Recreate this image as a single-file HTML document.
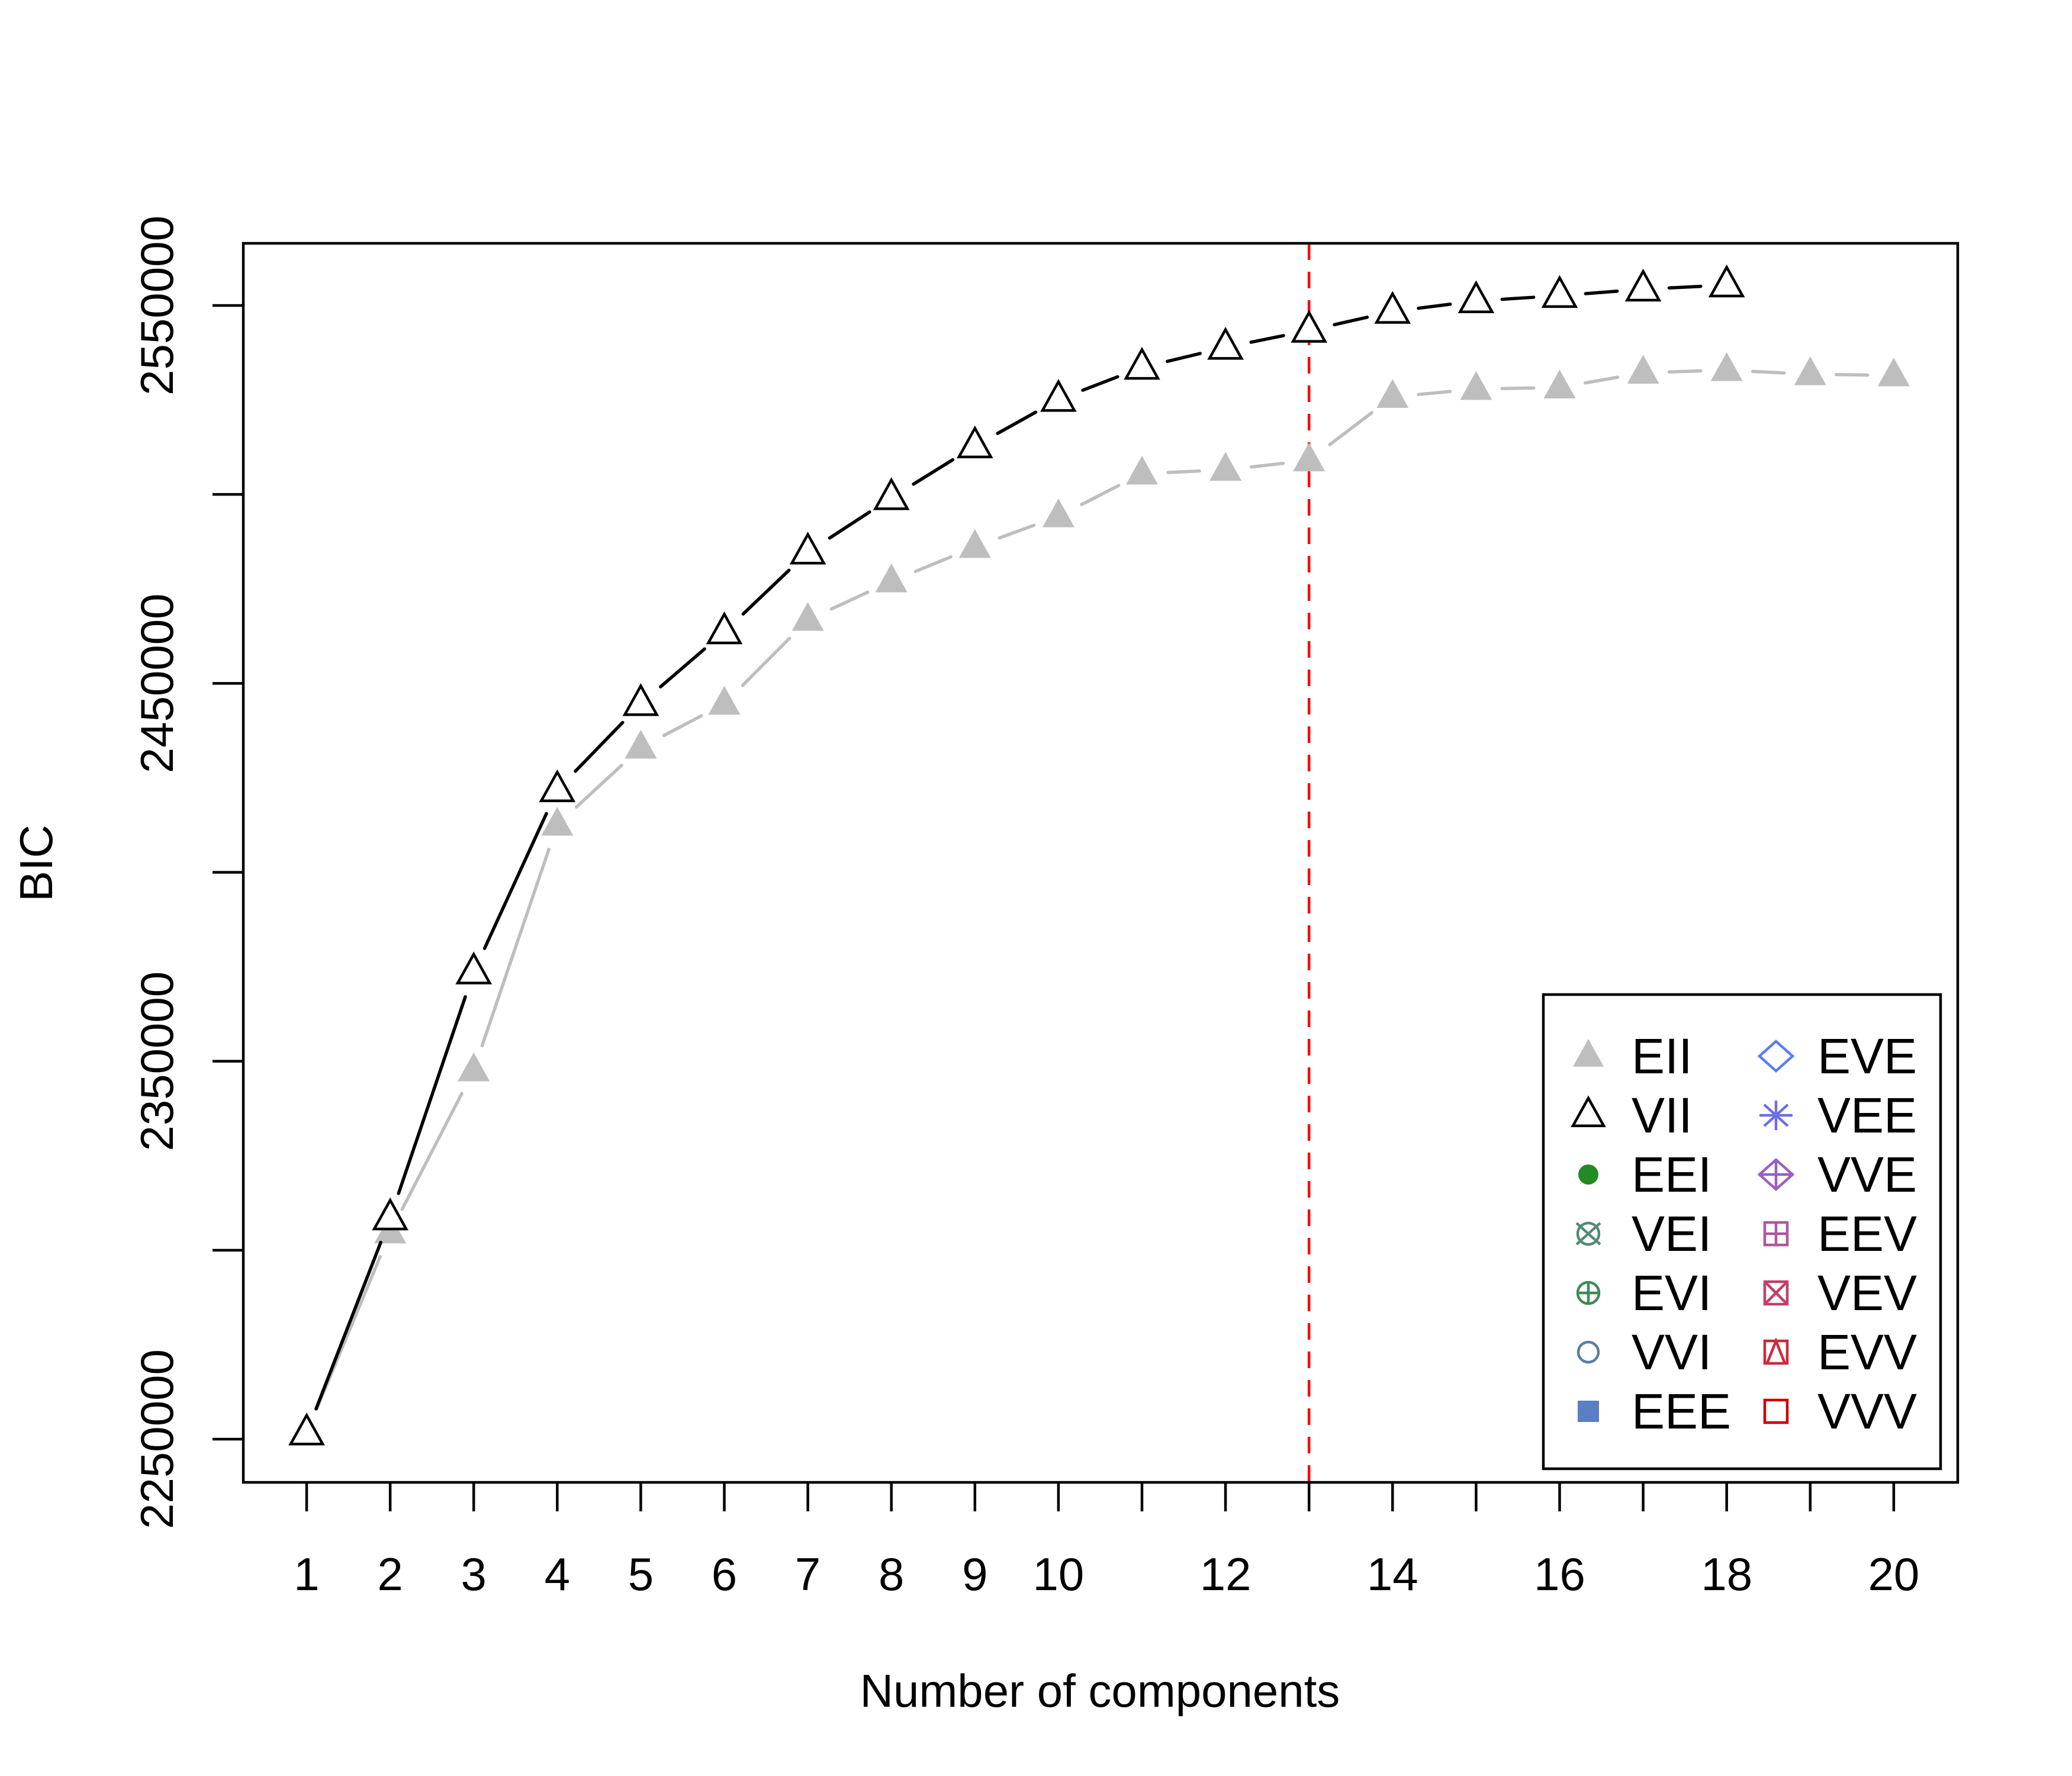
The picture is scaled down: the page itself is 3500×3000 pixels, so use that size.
<!DOCTYPE html>
<html><head><meta charset="utf-8"><style>html,body{margin:0;padding:0;background:#fff}svg{display:block}text{font-family:"Liberation Sans",Arial,sans-serif}</style></head>
<body>
<svg id="chart" width="3500" height="3000" viewBox="0 0 3500 3000" xmlns="http://www.w3.org/2000/svg">
<rect x="0" y="0" width="3500" height="3000" fill="#fff"/>
<g id="marks"></g>
<rect x="411" y="411" width="2896" height="2093" fill="none" stroke="#000" stroke-width="4.5"/>
<g id="axes"></g>
<text x="1858" y="2883" font-size="78" text-anchor="middle">Number of components</text>
<text transform="translate(88,1458) rotate(-90)" font-size="78" text-anchor="middle">BIC</text>
<g>
<rect x="2607" y="1680" width="671" height="801" fill="#fff" stroke="#000" stroke-width="4.5"/>
<g id="legend-items"></g>
</g>
</svg>
<script>
const components = [1,2,3,4,5,6,7,8,9,10,11,12,13,14,15,16,17,18,19,20];
const eiiValues = [2251600,2304700,2347600,2412600,2433000,2444600,2466800,2477000,2486100,2494200,2505500,2506500,2509000,2525800,2527900,2528300,2532200,2532900,2531800,2531500];
const viiValues = [2251600,2308500,2373600,2421800,2444600,2463600,2484700,2499100,2512800,2525100,2533600,2538900,2543400,2548400,2551200,2552600,2554300,2555400];
const xTickLabels = ["1","2","3","4","5","6","7","8","9","10","","12","","14","","16","","18","","20"];
const yTicks = [2250000,2300000,2350000,2400000,2450000,2500000,2550000];
const yTickLabels = ["2250000","","2350000","","2450000","","2550000"];
const bestK = 13;

const NS = "http://www.w3.org/2000/svg";
function X(v){ return 518 + (v-1)*141.1; }
function Y(v){ return 2431 - (v-2250000)/300000*1915; }
function mk(tag, attrs, parent){ const e=document.createElementNS(NS,tag); for(const k in attrs) e.setAttribute(k,attrs[k]); parent.appendChild(e); return e; }
const marks=document.getElementById('marks'), axes=document.getElementById('axes'), leg=document.getElementById('legend-items');

components.forEach((c,i)=>{
  const t=mk('line',{x1:X(c),x2:X(c),y1:2504,y2:2553,stroke:'#000','stroke-width':4.5},axes);
  
  
  if(xTickLabels[i]){
    const l=mk('text',{x:X(c),y:2686,'font-size':78,'text-anchor':'middle'},axes);
    l.textContent=xTickLabels[i];
    
    
  }
});
yTicks.forEach((v,i)=>{
  const t=mk('line',{x1:359,x2:411,y1:Y(v),y2:Y(v),stroke:'#000','stroke-width':4.5},axes);
  
  
  if(yTickLabels[i]){
    const l=mk('text',{transform:`translate(292,${Y(v)}) rotate(-90)`,'font-size':78,'text-anchor':'middle'},axes);
    l.textContent=yTickLabels[i];
    
    
  }
});

const rl=mk('line',{x1:X(bestK),x2:X(bestK),y1:411,y2:2504,stroke:'#ff0000','stroke-width':4.5,'stroke-dasharray':'28 20'},marks);



function tri(cx,cy,s,fill,stroke,parent){
  const h=s*0.9;
  return mk('polygon',{points:`${cx},${cy-h*0.62} ${cx-s/2},${cy+h*0.38} ${cx+s/2},${cy+h*0.38}`,fill:fill,stroke:stroke,'stroke-width':4.5},parent);
}
function series(vals,color,filled,name){
  const gap=44;
  for(let i=0;i<vals.length-1;i++){
    const x1=X(components[i]),y1=Y(vals[i]),x2=X(components[i+1]),y2=Y(vals[i+1]);
    const d=Math.hypot(x2-x1,y2-y1); if(d<=2*gap) continue;
    const ux=(x2-x1)/d, uy=(y2-y1)/d;
    const s=mk('line',{x1:x1+ux*gap,y1:y1+uy*gap,x2:x2-ux*gap,y2:y2-uy*gap,stroke:color,'stroke-width':5.5,'stroke-linecap':'round'},marks);
    
    
  }
  vals.forEach((v,i)=>{
    const p=tri(X(components[i]),Y(v),54,filled?color:'#fff',filled?'none':color,marks);
    
    
  });
}
series(eiiValues,'#bebebe',true,'eii');
series(viiValues,'#000',false,'vii');

const col1=["EII","VII","EEI","VEI","EVI","VVI","EEE"], col2=["EVE","VEE","VVE","EEV","VEV","EVV","VVV"];
function sym(i,cx,cy,col){
  const g=mk('g',{},leg);
  
  
  const sw=4.5;
  if(col===0){
    if(i===0) tri(cx,cy,52,'#bebebe','none',g);
    if(i===1) tri(cx,cy,52,'#fff','#000',g);
    if(i===2) mk('circle',{cx,cy,r:17,fill:'#228b22'},g);
    if(i===3){ mk('circle',{cx,cy,r:18,fill:'none',stroke:'#548b74','stroke-width':sw},g); mk('path',{d:`M${cx-20},${cy-18}L${cx+20},${cy+18}M${cx-20},${cy+18}L${cx+20},${cy-18}`,stroke:'#548b74','stroke-width':sw},g);}
    if(i===4){ mk('circle',{cx,cy,r:18,fill:'none',stroke:'#3e8b57','stroke-width':sw},g); mk('path',{d:`M${cx-18},${cy}L${cx+18},${cy}M${cx},${cy-18}L${cx},${cy+18}`,stroke:'#3e8b57','stroke-width':sw},g);}
    if(i===5) mk('circle',{cx,cy,r:17,fill:'none',stroke:'#5a7f9f','stroke-width':sw},g);
    if(i===6) mk('rect',{x:cx-18,y:cy-18,width:36,height:36,fill:'#5a7fc2'},g);
  } else {
    if(i===0) mk('polygon',{points:`${cx},${cy-25} ${cx+28},${cy} ${cx},${cy+25} ${cx-28},${cy}`,fill:'none',stroke:'#5b7fee','stroke-width':sw},g);
    if(i===1) mk('path',{d:`M${cx-28},${cy}L${cx+28},${cy}M${cx},${cy-25}L${cx},${cy+25}M${cx-20},${cy-18}L${cx+20},${cy+18}M${cx-20},${cy+18}L${cx+20},${cy-18}`,stroke:'#6f6fe8','stroke-width':sw},g);
    if(i===2){ mk('polygon',{points:`${cx},${cy-25} ${cx+28},${cy} ${cx},${cy+25} ${cx-28},${cy}`,fill:'none',stroke:'#9a5fc6','stroke-width':sw},g); mk('path',{d:`M${cx-28},${cy}L${cx+28},${cy}M${cx},${cy-25}L${cx},${cy+25}`,stroke:'#9a5fc6','stroke-width':sw},g);}
    if(i===3){ mk('rect',{x:cx-19,y:cy-19,width:38,height:38,fill:'none',stroke:'#b0569c','stroke-width':sw},g); mk('path',{d:`M${cx-19},${cy}L${cx+19},${cy}M${cx},${cy-19}L${cx},${cy+19}`,stroke:'#b0569c','stroke-width':sw},g);}
    if(i===4){ mk('rect',{x:cx-19,y:cy-19,width:38,height:38,fill:'none',stroke:'#c0406a','stroke-width':sw},g); mk('path',{d:`M${cx-19},${cy-19}L${cx+19},${cy+19}M${cx-19},${cy+19}L${cx+19},${cy-19}`,stroke:'#c0406a','stroke-width':sw},g);}
    if(i===5){ mk('rect',{x:cx-19,y:cy-19,width:38,height:38,fill:'none',stroke:'#cc2a3c','stroke-width':sw},g); mk('path',{d:`M${cx-15},${cy+19}L${cx},${cy-19}L${cx+15},${cy+19}`,fill:'none',stroke:'#cc2a3c','stroke-width':sw},g);}
    if(i===6) mk('rect',{x:cx-19,y:cy-19,width:38,height:38,fill:'none',stroke:'#cc0000','stroke-width':sw},g);
  }
}
[col1,col2].forEach((arr,c)=>{
  arr.forEach((name,i)=>{
    const cy=1784+i*100;
    sym(i,c===0?2683:3000,cy,c);
    const t=mk('text',{x:c===0?2756:3070,y:cy+29,'font-size':84},leg);
    t.textContent=name;
    
    
  });
});
</script>
</body></html>
